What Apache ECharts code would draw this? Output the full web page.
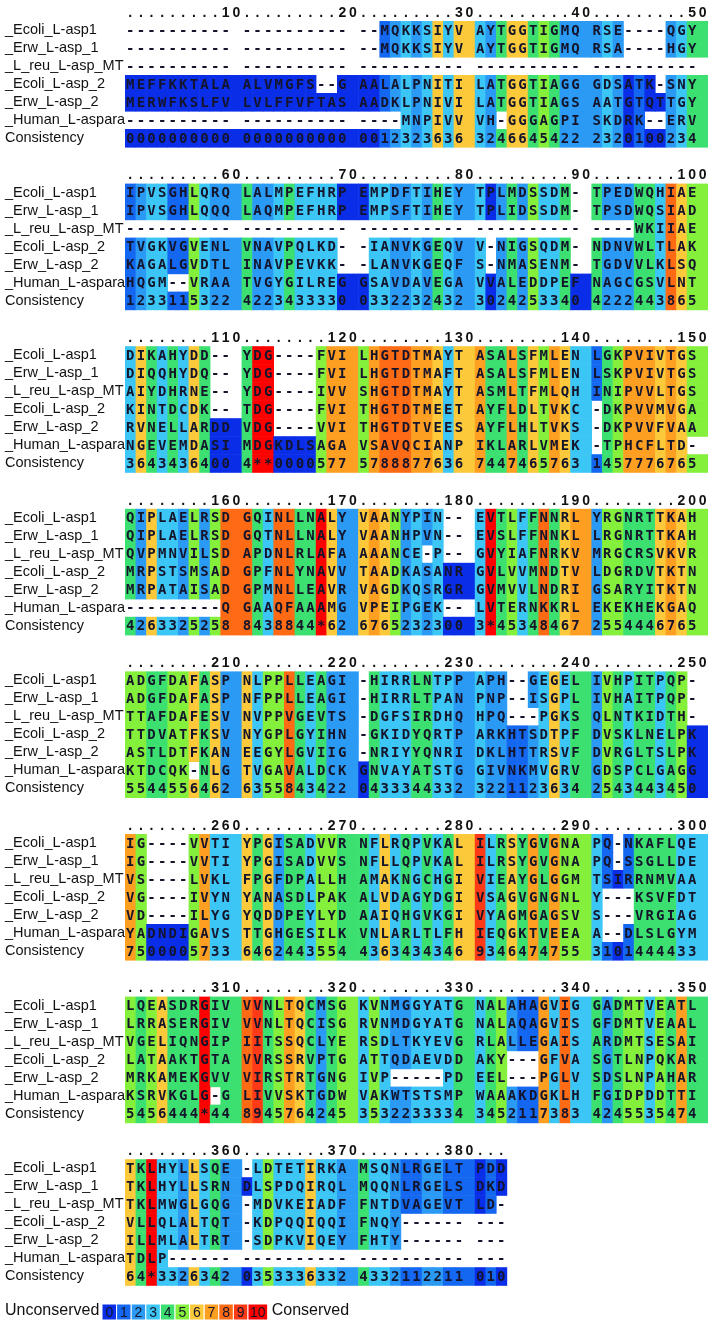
<!DOCTYPE html>
<html>
<head>
<meta charset="utf-8">
<script src="https://cdn.jsdelivr.net/npm/echarts@6/dist/echarts.min.js"></script>
<style>
  html, body { margin: 0; background: #fff; }
  #chart { width: 708px; height: 1326px; }
</style>
</head>
<body>
<div id="chart"></div>
<script>
// alignment rows, one string per block of 50 columns (spaces only split the groups of 10)
const rowNames = ["_Ecoli_L-asp1", "_Erw_L-asp_1", "_L_reu_L-asp_MT", "_Ecoli_L-asp_2", "_Erw_L-asp_2", "_Human_L-aspara"];

const ecoliAsp1 = [
  "---------- ---------- --MQKKSIYV AYTGGTIGMQ RSE----QGY",
  "IPVSGHLQRQ LALMPEFHRP EMPDFTIHEY TPLMDSSDM- TPEDWQHIAE",
  "DIKAHYDD-- YDG----FVI LHGTDTMAYT ASALSFMLEN LGKPVIVTGS",
  "QIPLAELRSD GQINLLNALY VAANYPIN-- EVTLFFNNRL YRGNRTTKAH",
  "ADGFDAFASP NLPPLLEAGI -HIRRLNTPP APH--GEGEL IVHPITPQP-",
  "IG----VVTI YPGISADVVR NFLRQPVKAL ILRSYGVGNA PQ-NKAFLQE",
  "LQEASDRGIV VVNLTQCMSG KVNMGGYATG NALAHAGVIG GADMTVEATL",
  "TKLHYLLSQE -LDTETIRKA MSQNLRGELT PDD"
];
const erwAsp1 = [
  "---------- ---------- --MQKKSIYV AYTGGTIGMQ RSA----HGY",
  "IPVSGHLQQQ LAQMPEFHRP EMPSFTIHEY TPLIDSSDM- TPSDWQSIAD",
  "DIQQHYDQ-- YDG----FVI LHGTDTMAFT ASALSFMLEN LSKPVIVTGS",
  "QIPLAELRSD GQTNLLNALY VAANHPVN-- EVSLFFNNKL LRGNRTTKAH",
  "ADGFDAFASP NFPPLLEAGI -HIRRLTPAN PNP--ISGPL IVHAITPQP-",
  "IG----VVTI YPGISADVVS NFLLQPVKAL ILRSYGVGNA PQ-SSGLLDE",
  "LRRASERGIV VVNLTQCISG RVNMDGYATG NALAQAGVIS GFDMTVEAAL",
  "TKLHYLLSRN DLSPDQIRQL MQQNLRGELS DKD"
];
const lreuAspMT = [
  "---------- ---------- ---------- ---------- ----------",
  "---------- ---------- ---------- ---------- ----WKIIAE",
  "AIYDHRNE-- YDG----IVV SHGTDTMAYT ASMLTFMLQH INIPVVLTGS",
  "QVPMNVILSD APDNLRLAFA AAANCE-P-- GVYIAFNRKV MRGCRSVKVR",
  "TTAFDAFESV NVPPVGEVTS -DGFSIRDHQ HPQ---PGKS QLNTKIDTH-",
  "VS----LVKL FPGFDPALLH AMAKNGCHGI VIEAYGLGGM TSIRRNMVAA",
  "VGELIQNGIP IITSSQCLYE RSDLTKYEVG RLALLEGAIS ARDMTSESAI",
  "TKLMWGLGQG -MDVKEIADF FNTDVAGEVT LD-"
];
const ecoliAsp2 = [
  "MEFFKKTALA ALVMGFS--G AALALPNITI LATGGTIAGG GDSATK-SNY",
  "TVGKVGVENL VNAVPQLKD- -IANVKGEQV V-NIGSQDM- NDNVWLTLAK",
  "KINTDCDK-- TDG----FVI THGTDTMEET AYFLDLTVKC -DKPVVMVGA",
  "MRPSTSMSAD GPFNLYNAVV TAADKASANR GVLVVMNDTV LDGRDVTKTN",
  "TTDVATFKSV NYGPLGYIHN -GKIDYQRTP ARKHTSDTPF DVSKLNELPK",
  "VG----IVYN YANASDLPAK ALVDAGYDGI VSAGVGNGNL Y---KSVFDT",
  "LATAAKTGTA VVRSSRVPTG ATTQDAEVDD AKY---GFVA SGTLNPQKAR",
  "VLLQLALTQT -KDPQQIQQI FNQY------ ---"
];
const erwAsp2 = [
  "MERWFKSLFV LVLFFVFTAS AADKLPNIVI LATGGTIAGS AATGTQTTGY",
  "KAGALGVDTL INAVPEVKK- -LANVKGEQF S-NMASENM- TGDVVLKLSQ",
  "RVNELLARDD VDG----VVI THGTDTVEES AYFLHLTVKS -DKPVVFVAA",
  "MRPATAISAD GPMNLLEAVR VAGDKQSRGR GVMVVLNDRI GSARYITKTN",
  "ASTLDTFKAN EEGYLGVIIG -NRIYYQNRI DKLHTTRSVF DVRGLTSLPK",
  "VD----ILYG YQDDPEYLYD AAIQHGVKGI VYAGMGAGSV S---VRGIAG",
  "MRKAMEKGVV VIRSTRTGNG IVP-----PD EEL---PGLV SDSLNPAHAR",
  "ILLMLALTRT -SDPKVIQEY FHTY------ ---"
];
const humanAsp = [
  "---------- ---------- ----MNPIVV VH-GGGAGPI SKDRK--ERV",
  "HQGM--VRAA TVGYGILREG GSAVDAVEGA VVALEDDPEF NAGCGSVLNT",
  "NGEVEMDASI MDGKDLSAGA VSAVQCIANP IKLARLVMEK -TPHCFLTD-",
  "---------Q GAAQFAAAMG VPEIPGEK-- LVTERNKKRL EKEKHEKGAQ",
  "KTDCQK-NLG TVGAVALDCK GNVAYATSTG GIVNKMVGRV GDSPCLGAGG",
  "YADNDIGAVS TTGHGESILK VNLARLTLFH IEQGKTVEEA A--DLSLGYM",
  "KSRVKGLG-G LIVVSKTGDW VAKWTSTSMP WAAAKDGKLH FGIDPDDTTI",
  "TDLP------ ---------- ---------- ---"
];
// consistency score per column, '*' = 10
const consistency = [
  "0000000000 0000000000 0012323636 3246645422 2320100234",
  "1233115322 4223433330 0332232432 3024253340 4222443865",
  "3643436400 4**0000577 5788877636 7447465763 1457776765",
  "4263325258 8438844*62 6765232300 3*45348467 2554446765",
  "5544556462 6355843422 0433344332 3221123634 2543443450",
  "7500005733 6462443554 4363434346 9346474755 3101444433",
  "5456444*44 8945764245 3532233334 3452117383 4245535474",
  "64*3326342 0353336332 4332112211 010"
];

const scoreColors = ["#0a2ee8", "#1467f0", "#2a9af5", "#3cc6f5", "#3ce070", "#84f03c",
                     "#fcc93a", "#ff9f21", "#ff6a14", "#ff3a17", "#ff0000"];
const legendLabels = ["0", "1", "2", "3", "4", "5", "6", "7", "8", "9", "10"];

const sequences = [ecoliAsp1, erwAsp1, lreuAspMT, ecoliAsp2, erwAsp2, humanAsp];

// layout
const SEQ_LEFT = 125, UNIT = 10.6, ROW_H = 18, BLOCK_H = 162.6, TOP = 12;
const UNITS = 55;
const SEQ_FONT = 'bold 14px "DejaVu Sans Mono"';
const RULER_FONT = 'bold 14px "Liberation Sans", Arial, sans-serif';

const scoreOf = (ch) => (ch === "*" ? 10 : Number(ch));

function buildBlock(b) {
  const cells = [];
  const chars = [];
  const cons = consistency[b].replace(/ /g, "");
  const nCols = cons.length;

  // ruler: dots, the number sits on the last column + spacer of each group
  for (let g = 0; g * 10 < nCols; g++) {
    const cols = Math.min(10, nCols - g * 10);
    if (cols === 10) {
      const label = String(b * 50 + g * 10 + 10);
      for (let k = 0; k < 11; k++) {
        const off = k - (11 - label.length);
        cells.push([g * 11 + k, 0, 1, -1]);
        chars.push(off >= 0 ? label[off] : ".");
      }
    } else {
      for (let k = 0; k < cols; k++) {
        cells.push([g * 11 + k, 0, 1, -1]);
        chars.push(".");
      }
    }
  }

  const rows = sequences.map((s) => s[b].replace(/ /g, "")).concat([cons]);
  rows.forEach((str, r) => {
    for (let c = 0; c < str.length; c++) {
      const ch = str[c];
      const score = ch === "-" ? -1 : scoreOf(cons[c]);
      cells.push([c + Math.floor(c / 10), r + 1, c % 10 === 9 ? 2 : 1, score]);
      chars.push(ch);
    }
  });
  return { cells, chars };
}

const grids = [], xAxes = [], yAxes = [], series = [];

consistency.forEach((_, b) => {
  const { cells, chars } = buildBlock(b);
  const rulerY = TOP + b * BLOCK_H;
  grids.push({
    left: SEQ_LEFT, top: rulerY - ROW_H / 2, width: UNITS * UNIT, height: 8 * ROW_H,
    containLabel: false, outerBoundsMode: "none"
  });
  xAxes.push({ gridIndex: b, type: "value", min: 0, max: UNITS, show: false });
  yAxes.push({
    gridIndex: b, type: "category", inverse: true,
    data: [""].concat(rowNames, ["Consistency"]),
    axisLine: { show: false }, axisTick: { show: false }, splitLine: { show: false },
    axisLabel: {
      interval: 0, align: "left", margin: SEQ_LEFT - 5, color: "#111",
      fontSize: 14.5, fontFamily: '"Liberation Sans", Arial, sans-serif'
    }
  });
  series.push({
    type: "custom", xAxisIndex: b, yAxisIndex: b, silent: true, clip: false,
    data: cells,
    renderItem(params, api) {
      const p = api.coord([api.value(0), api.value(1)]);
      const size = api.size([1, 1]);
      const score = api.value(3);
      const isRuler = api.value(1) === 0;
      const children = [];
      if (score >= 0) {
        children.push({
          type: "rect",
          shape: { x: p[0], y: p[1] - size[1] / 2, width: size[0] * api.value(2) + 0.6, height: size[1] + 0.6 },
          style: { fill: scoreColors[score] }
        });
      }
      children.push({
        type: "text",
        style: {
          text: chars[params.dataIndex], x: p[0] + size[0] / 2, y: p[1] + 1,
          align: "center", verticalAlign: "middle",
          font: isRuler ? RULER_FONT : SEQ_FONT, fill: isRuler ? "#111" : "#14142a"
        }
      });
      return { type: "group", children };
    }
  });
});

// legend strip
const legendWidths = legendLabels.map((l) => (l.length > 1 ? 1.35 : 1));
const legendCells = [];
let acc = 0;
legendWidths.forEach((w, i) => { legendCells.push([acc, 0, w, i]); acc += w; });
const LG = grids.length;
grids.push({ left: 102, top: 1304, width: acc * 14.6, height: 16, containLabel: false, outerBoundsMode: "none" });
xAxes.push({ gridIndex: LG, type: "value", min: 0, max: acc, show: false });
yAxes.push({ gridIndex: LG, type: "category", data: [""], show: false });
series.push({
  type: "custom", xAxisIndex: LG, yAxisIndex: LG, silent: true, clip: false,
  data: legendCells,
  renderItem(params, api) {
    const p = api.coord([api.value(0), 0]);
    const size = api.size([api.value(2), 1]);
    return {
      type: "group",
      children: [
        {
          type: "rect",
          shape: { x: p[0], y: p[1] - size[1] / 2, width: size[0], height: size[1] },
          style: { fill: scoreColors[api.value(3)], stroke: "#fff", lineWidth: 1 }
        },
        {
          type: "text",
          style: {
            text: legendLabels[params.dataIndex], x: p[0] + size[0] / 2, y: p[1] + 1,
            align: "center", verticalAlign: "middle",
            font: '14px "Liberation Sans", Arial, sans-serif', fill: "#14142a"
          }
        }
      ]
    };
  }
});

const chart = echarts.init(document.getElementById("chart"), null, { renderer: "canvas" });
chart.setOption({
  animation: false,
  backgroundColor: "#fff",
  grid: grids,
  xAxis: xAxes,
  yAxis: yAxes,
  series,
  graphic: [
    {
      type: "text", left: 5, top: 1303,
      style: { text: "Unconserved", font: '16px "Liberation Sans", Arial, sans-serif', fill: "#111" }
    },
    {
      type: "text", left: 102 + acc * 14.6 + 4, top: 1303,
      style: { text: "Conserved", font: '16px "Liberation Sans", Arial, sans-serif', fill: "#111" }
    }
  ]
});
</script>
</body>
</html>
